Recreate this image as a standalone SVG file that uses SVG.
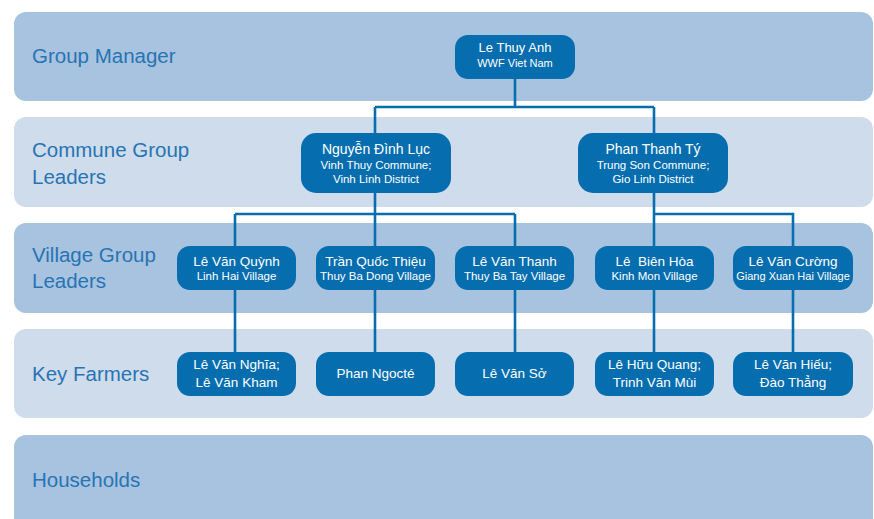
<svg xmlns="http://www.w3.org/2000/svg" width="874" height="519" viewBox="0 0 874 519">
<style>
.bd{fill:#a7c3e0}
.bl{fill:#cfdcec}
.lbl{font-family:"Liberation Sans",Arial,sans-serif;font-size:20.5px;fill:#2874b3}
.nd{fill:#066eaf}
.t1{font-family:"Liberation Sans",Arial,sans-serif;font-size:13.5px;fill:#fff;text-anchor:middle}
.t2{font-family:"Liberation Sans",Arial,sans-serif;font-size:11.5px;fill:#fff;text-anchor:middle}
.cn{fill:none;stroke:#066eaf;stroke-width:2.6}
</style>
<rect width="874" height="519" fill="#fff"/>
<g id="bands">
<rect class="bd" x="14" y="12" width="859" height="89" rx="12"/>
<rect class="bl" x="14" y="117" width="859" height="90" rx="12"/>
<rect class="bd" x="14" y="223" width="859" height="90" rx="12"/>
<rect class="bl" x="14" y="329" width="859" height="89" rx="12"/>
<rect class="bd" x="14" y="435" width="859" height="100" rx="12"/>
<text class="lbl" x="32" y="63">Group Manager</text>
<text class="lbl" x="32" y="157">Commune Group</text>
<text class="lbl" x="32" y="184">Leaders</text>
<text class="lbl" x="32" y="262">Village Group</text>
<text class="lbl" x="32" y="288">Leaders</text>
<text class="lbl" x="32" y="381">Key Farmers</text>
<text class="lbl" x="32" y="487">Households</text>
</g>
<g id="connectors">
<path class="cn" d="M515 79V107M375 107H654M375 107V133M654 107V133"/>
<path class="cn" d="M375 193V352M235 214H515M235 214V352M515 214V352"/>
<path class="cn" d="M654 193V352M654 214H793V352"/>
</g>
<g id="n-le-thuy-anh">
<rect class="nd" x="455" y="35" width="120" height="44" rx="13"/>
<text class="t1" x="515" y="52" style="font-size:13px">Le Thuy Anh</text>
<text class="t2" x="515" y="67" style="font-size:11px">WWF Viet Nam</text>
</g>
<g id="n-nguyen-dinh-luc">
<rect class="nd" x="301" y="133" width="150" height="60" rx="15"/>
<text class="t1" x="376" y="154" style="font-size:14px">Nguyễn Đình Lục</text>
<text class="t2" x="376" y="169">Vinh Thuy Commune;</text>
<text class="t2" x="376" y="183">Vinh Linh District</text>
</g>
<g id="n-phan-thanh-ty">
<rect class="nd" x="578" y="133" width="150" height="60" rx="15"/>
<text class="t1" x="653" y="154" style="font-size:14px">Phan Thanh Tý</text>
<text class="t2" x="653" y="169">Trung Son Commune;</text>
<text class="t2" x="653" y="183">Gio Linh District</text>
</g>
<g id="n-le-van-quynh">
<rect class="nd" x="177" y="246" width="119" height="44" rx="13"/>
<text class="t1" x="236.5" y="266">Lê Văn Quỳnh</text>
<text class="t2" x="236.5" y="280">Linh Hai Village</text>
</g>
<g id="n-tran-quoc-thieu">
<rect class="nd" x="316" y="246" width="119" height="44" rx="13"/>
<text class="t1" x="375.5" y="266">Trần Quốc Thiệu</text>
<text class="t2" x="375.5" y="280">Thuy Ba Dong Village</text>
</g>
<g id="n-le-van-thanh">
<rect class="nd" x="455" y="246" width="119" height="44" rx="13"/>
<text class="t1" x="514.5" y="266">Lê Văn Thanh</text>
<text class="t2" x="514.5" y="280">Thuy Ba Tay Village</text>
</g>
<g id="n-le-bien-hoa">
<rect class="nd" x="595" y="246" width="119" height="44" rx="13"/>
<text class="t1" x="654.5" y="266" xml:space="preserve">Lê  Biên Hòa</text>
<text class="t2" x="654.5" y="280">Kinh Mon Village</text>
</g>
<g id="n-le-van-cuong">
<rect class="nd" x="733" y="246" width="120" height="44" rx="13"/>
<text class="t1" x="793" y="266">Lê Văn Cường</text>
<text class="t2" x="793" y="280" style="font-size:11px">Giang Xuan Hai Village</text>
</g>
<g id="n-le-van-nghia">
<rect class="nd" x="177" y="352" width="119" height="44" rx="13"/>
<text class="t1" x="236.5" y="369">Lê Văn Nghĩa;</text>
<text class="t1" x="236.5" y="387">Lê Văn Kham</text>
</g>
<g id="n-phan-ngocte">
<rect class="nd" x="316" y="352" width="119" height="44" rx="13"/>
<text class="t1" x="375.5" y="378">Phan Ngocté</text>
</g>
<g id="n-le-van-so">
<rect class="nd" x="455" y="352" width="119" height="44" rx="13"/>
<text class="t1" x="514.5" y="378">Lê Văn Sở</text>
</g>
<g id="n-le-huu-quang">
<rect class="nd" x="595" y="352" width="119" height="44" rx="13"/>
<text class="t1" x="654.5" y="369">Lê Hữu Quang;</text>
<text class="t1" x="654.5" y="387">Trinh Văn Mùi</text>
</g>
<g id="n-le-van-hieu">
<rect class="nd" x="733" y="352" width="120" height="44" rx="13"/>
<text class="t1" x="793" y="369">Lê Văn Hiếu;</text>
<text class="t1" x="793" y="387">Đào Thẳng</text>
</g>
</svg>
